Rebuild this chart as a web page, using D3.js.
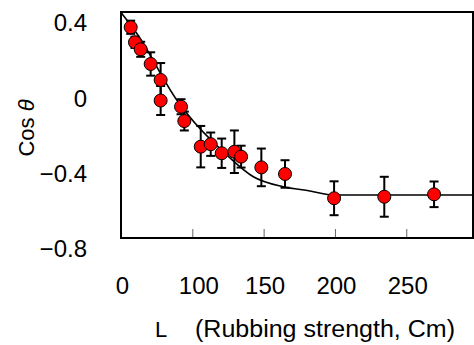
<!DOCTYPE html>
<html>
<head>
<meta charset="utf-8">
<script src="https://cdn.jsdelivr.net/npm/d3@7"></script>
<style>
  body { margin: 0; background: #fff; }
  svg { display: block; font-family: "Liberation Sans", Arial, sans-serif; }
</style>
</head>
<body>
<svg id="chart" width="474" height="345"></svg>
<script>
// rubbing strength L and measured cos(theta), with error (+/-)
var rubL = [6.8, 9.8, 13.8, 20.8, 27.8, 27.8, 42.1, 44.4, 55.9, 62.9, 70.6, 79.5, 84.2, 98.4, 115.0, 149.4, 184.6, 219.5];
var cosTheta = [0.319, 0.239, 0.202, 0.124, 0.039, -0.07, -0.103, -0.179, -0.315, -0.302, -0.35, -0.342, -0.368, -0.425, -0.46, -0.589, -0.581, -0.568];
var cosErr = [0.035, 0.03, 0.04, 0.062, 0.09, 0.077, 0.04, 0.05, 0.11, 0.062, 0.078, 0.113, 0.058, 0.1, 0.073, 0.09, 0.106, 0.068];

// fitted curve
var fitL = [0, 11.0, 39.1, 46.1, 74.1, 92.8, 113.8, 132.5, 149.4, 246.8];
var fitCos = [0.397, 0.287, -0.067, -0.138, -0.359, -0.475, -0.528, -0.55, -0.572, -0.572];

// axis ticks
var xTickValues = [0, 50, 100, 150, 200];
var xTickLabels = ["0", "100", "150", "200", "250"];
var yTickValues = [0.4, 0, -0.4, -0.8];
var yTickLabels = ["0.4", "0", "\u22120.4", "\u22120.8"];

var margin = { top: 12, left: 121 },
   width = 352,
   height = 226;

var svg = d3.select("#chart");
var g = svg.append("g").attr("transform", "translate(" + margin.left + "," + margin.top + ")");

var x = d3.scaleLinear().domain([0, 246.8]).range([0, width]);
var y = d3.scaleLinear().domain([-0.8, 0.4]).range([height, 0]);

// x axis, ticks pointing inward
var xAxis = g.append("g")
   .attr("transform", "translate(0," + height + ")")
   .call(d3.axisBottom(x)
      .tickValues(xTickValues)
      .tickFormat(function (d, i) { return xTickLabels[i]; })
      .tickSizeInner(-9)
      .tickSizeOuter(0)
      .tickPadding(39));
xAxis.select(".domain").remove();
xAxis.selectAll(".tick line").attr("stroke", "#666").attr("stroke-width", 1);
xAxis.selectAll(".tick text")
   .attr("fill", "#000")
   .attr("x", function (d, i) { return i == 1 ? 6 : 1; })
   .style("font-size", "24px")
   .style("font-family", "Liberation Sans, Arial, sans-serif");

// y axis, labels only
var yAxis = g.append("g")
   .call(d3.axisLeft(y)
      .tickValues(yTickValues)
      .tickFormat(function (d, i) { return yTickLabels[i]; })
      .tickSize(0)
      .tickPadding(34));
yAxis.select(".domain").remove();
yAxis.selectAll(".tick text")
   .attr("y", 11)
   .attr("fill", "#000")
   .style("font-size", "24px")
   .style("font-family", "Liberation Sans, Arial, sans-serif");

// fitted line
var fitData = fitL.map(function (d, i) { return [d, fitCos[i]]; });
g.append("path")
   .datum(fitData)
   .attr("fill", "none")
   .attr("stroke", "#000")
   .attr("stroke-width", 1.6)
   .attr("d", d3.line()
      .x(function (d) { return x(d[0]); })
      .y(function (d) { return y(d[1]); })
      .curve(d3.curveMonotoneX));

var pts = rubL.map(function (d, i) { return { L: d, c: cosTheta[i], e: cosErr[i] }; });

// error bars
var eb = g.selectAll("g.err").data(pts).enter().append("g").attr("class", "err")
   .attr("stroke", "#000").attr("stroke-width", 2);
eb.append("line")
   .attr("x1", function (d) { return x(d.L); })
   .attr("x2", function (d) { return x(d.L); })
   .attr("y1", function (d) { return y(d.c + d.e); })
   .attr("y2", function (d) { return y(d.c - d.e); });
eb.append("line")
   .attr("x1", function (d) { return x(d.L) - 4.5; })
   .attr("x2", function (d) { return x(d.L) + 4.5; })
   .attr("y1", function (d) { return y(d.c + d.e); })
   .attr("y2", function (d) { return y(d.c + d.e); });
eb.append("line")
   .attr("x1", function (d) { return x(d.L) - 4.5; })
   .attr("x2", function (d) { return x(d.L) + 4.5; })
   .attr("y1", function (d) { return y(d.c - d.e); })
   .attr("y2", function (d) { return y(d.c - d.e); });

// markers
g.selectAll("circle.pt").data(pts).enter().append("circle")
   .attr("class", "pt")
   .attr("cx", function (d) { return x(d.L); })
   .attr("cy", function (d) { return y(d.c); })
   .attr("r", 6.5)
   .attr("fill", "#ff0000")
   .attr("stroke", "#000")
   .attr("stroke-width", 1);

// frame
g.append("rect")
   .attr("width", width)
   .attr("height", height)
   .attr("fill", "none")
   .attr("stroke", "#000")
   .attr("stroke-width", 2);

// axis titles
svg.append("text")
   .attr("transform", "translate(26,128) rotate(-90)")
   .attr("text-anchor", "middle")
   .attr("dy", "0.35em")
   .style("font-size", "22px")
   .text("Cos ")
   .append("tspan")
   .style("font-style", "italic")
   .text("\u03b8");

svg.append("text")
   .attr("x", 155)
   .attr("y", 337)
   .style("font-size", "22px")
   .text("L");
svg.append("text")
   .attr("x", 195)
   .attr("y", 337)
   .attr("textLength", 260)
   .attr("lengthAdjust", "spacingAndGlyphs")
   .style("font-size", "23px")
   .text("(Rubbing strength, Cm)");
</script>
</body>
</html>
